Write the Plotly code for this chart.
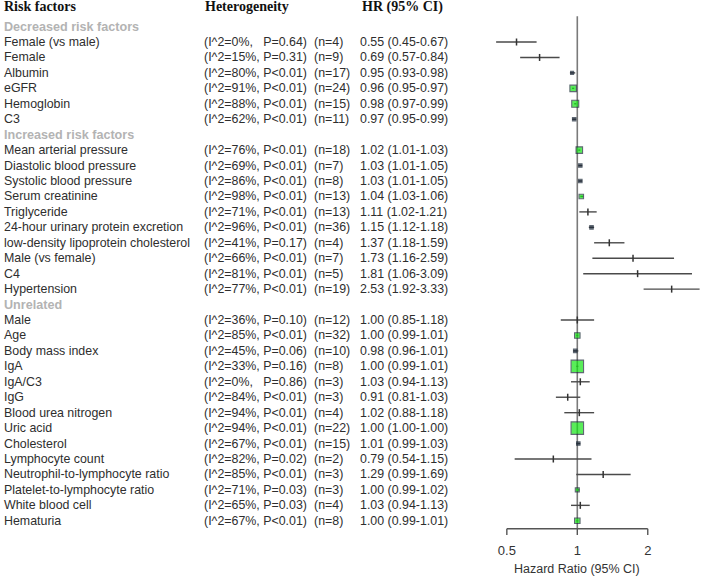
import math
import plotly.graph_objects as go

# ---------------- data ----------------
group_names = ["Decreased risk factors", "Increased risk factors", "Unrelated"]

dec_factors = ["Female (vs male)", "Female", "Albumin", "eGFR", "Hemoglobin", "C3"]
dec_i2 = [0, 15, 80, 91, 88, 62]
dec_p = ["=0.64", "=0.31", "<0.01", "<0.01", "<0.01", "<0.01"]
dec_n = [4, 9, 17, 24, 15, 11]
dec_hr = [0.55, 0.69, 0.95, 0.96, 0.98, 0.97]
dec_lo = [0.45, 0.57, 0.93, 0.95, 0.97, 0.95]
dec_hi = [0.67, 0.84, 0.98, 0.97, 0.99, 0.99]

inc_factors = ["Mean arterial pressure", "Diastolic blood pressure", "Systolic blood pressure",
               "Serum creatinine", "Triglyceride", "24-hour urinary protein excretion",
               "low-density lipoprotein cholesterol", "Male (vs female)", "C4", "Hypertension"]
inc_i2 = [76, 69, 86, 98, 71, 96, 41, 66, 81, 77]
inc_p = ["<0.01", "<0.01", "<0.01", "<0.01", "<0.01", "<0.01", "=0.17", "<0.01", "<0.01", "<0.01"]
inc_n = [18, 7, 8, 13, 13, 36, 4, 7, 5, 19]
inc_hr = [1.02, 1.03, 1.03, 1.04, 1.11, 1.15, 1.37, 1.73, 1.81, 2.53]
inc_lo = [1.01, 1.01, 1.01, 1.03, 1.02, 1.12, 1.18, 1.16, 1.06, 1.92]
inc_hi = [1.03, 1.05, 1.05, 1.06, 1.21, 1.18, 1.59, 2.59, 3.09, 3.33]

unr_factors = ["Male", "Age", "Body mass index", "IgA", "IgA/C3", "IgG", "Blood urea nitrogen",
               "Uric acid", "Cholesterol", "Lymphocyte count", "Neutrophil-to-lymphocyte ratio",
               "Platelet-to-lymphocyte ratio", "White blood cell", "Hematuria"]
unr_i2 = [36, 85, 45, 33, 0, 84, 94, 94, 67, 82, 85, 71, 65, 67]
unr_p = ["=0.10", "<0.01", "=0.06", "=0.16", "=0.86", "<0.01", "<0.01", "<0.01", "<0.01",
         "=0.02", "<0.01", "=0.03", "=0.03", "<0.01"]
unr_n = [12, 32, 10, 8, 3, 3, 4, 22, 15, 2, 3, 3, 4, 8]
unr_hr = [1.00, 1.00, 0.98, 1.00, 1.03, 0.91, 1.02, 1.00, 1.01, 0.79, 1.29, 1.00, 1.03, 1.00]
unr_lo = [0.85, 0.99, 0.96, 0.99, 0.94, 0.81, 0.88, 1.00, 0.99, 0.54, 0.99, 0.99, 0.94, 0.99]
unr_hi = [1.18, 1.01, 1.01, 1.01, 1.13, 1.03, 1.18, 1.00, 1.03, 1.15, 1.69, 1.02, 1.13, 1.01]

# box size (study weight, px); 0 = tick only
dec_box = [0, 0, 3, 6.5, 7, 3.5]
inc_box = [6.5, 3.5, 3.5, 4.5, 0, 3.5, 0, 0, 0, 0]
unr_box = [0, 5.5, 3.5, 12.5, 0, 0, 0, 12.5, 3.5, 0, 0, 4, 0, 5.5]

x_ticks = [0.5, 1, 2]
x_ticktext = ["0.5", "1", "2"]
axis_title = "Hazard Ratio (95% CI)"
headers = ["Risk factors", "Heterogeneity", "HR (95% CI)"]

# ---------------- build rows ----------------
groups = [
    (group_names[0], dec_factors, dec_i2, dec_p, dec_n, dec_hr, dec_lo, dec_hi, dec_box),
    (group_names[1], inc_factors, inc_i2, inc_p, inc_n, inc_hr, inc_lo, inc_hi, inc_box),
    (group_names[2], unr_factors, unr_i2, unr_p, unr_n, unr_hr, unr_lo, unr_hi, unr_box),
]

W, H = 702, 578
TXT = "#2e2e2e"
FONT = "Liberation Sans, Arial, sans-serif"
SERIF = "Liberation Serif, Times New Roman, serif"

annotations = []
def px(x):
    return x / W

def add_text(text, x, y, size=12.4, color=TXT, family=FONT):
    annotations.append(dict(text=text, x=px(x), xref="paper", y=y, yref="y",
                            xanchor="left", yanchor="middle", showarrow=False,
                            font=dict(size=size, color=color, family=family)))

# headers
add_text("<b>" + headers[0] + "</b>", 2, -0.28, 14, "#111", SERIF)
add_text("<b>" + headers[1] + "</b>", 203, -0.28, 14, "#111", SERIF)
add_text("<b>" + headers[2] + "</b>", 360, -0.28, 14, "#111", SERIF)

rows_y, hr_all, lo_all, hi_all, box_all = [], [], [], [], []
row = 1
for gname, facs, i2s, ps, ns, hrs, los, his, boxes in groups:
    add_text("<b>" + gname + "</b>", 2, row, 12.6, "#b3b3b3")
    row += 1
    for f, i2, p, n, hr, lo, hi, b in zip(facs, i2s, ps, ns, hrs, los, his, boxes):
        add_text(f, 2, row)
        sep = ",\u00a0\u00a0\u00a0" if i2 < 10 else ", "
        add_text(f"(I^2={i2}%{sep}P{p})", 202, row)
        add_text(f"(n={n})", 312, row)
        add_text(f"{hr:.2f} ({lo:.2f}-{hi:.2f})", 358, row)
        rows_y.append(row)
        hr_all.append(hr); lo_all.append(lo); hi_all.append(hi); box_all.append(b)
        row += 1

last_row = rows_y[-1]
y_axis = last_row + 0.52          # row position of the HR axis line
y_bottom = y_axis + 0.40          # bottom of plot area (tick ends)
y_top = -0.72

fig = go.Figure()

# reference line at HR = 1
fig.add_trace(go.Scatter(x=[1, 1], y=[0.33, y_axis], mode="lines",
                         line=dict(color="#7a7a7a", width=1.6), hoverinfo="skip", showlegend=False))

# HR axis line (0.5 - 2) and its tick marks
ax_x = [x_ticks[0], x_ticks[-1], None]
ax_y = [y_axis, y_axis, None]
for t in x_ticks:
    ax_x += [t, t, None]
    ax_y += [y_axis, y_bottom, None]
fig.add_trace(go.Scatter(x=ax_x, y=ax_y, mode="lines", line=dict(color="#555", width=1.4),
                         hoverinfo="skip", showlegend=False))

# CI lines
cx, cy = [], []
for y, lo, hi in zip(rows_y, lo_all, hi_all):
    cx += [lo, hi, None]
    cy += [y, y, None]
fig.add_trace(go.Scatter(x=cx, y=cy, mode="lines", line=dict(color="#4a4a4a", width=1.4),
                         hoverinfo="skip", showlegend=False))

# ticks for small-weight estimates
tx = [h for h, b in zip(hr_all, box_all) if b == 0]
ty = [y for y, b in zip(rows_y, box_all) if b == 0]
fig.add_trace(go.Scatter(x=tx, y=ty, mode="markers",
                         marker=dict(symbol="line-ns", size=5, line=dict(color="#333", width=1.5)),
                         hoverinfo="skip", showlegend=False))

# boxes
bx = [h for h, b in zip(hr_all, box_all) if b > 0]
by = [y for y, b in zip(rows_y, box_all) if b > 0]
bs = [b for b in box_all if b > 0]
bc = ["#1c2838" if b <= 3.5 else "#14e614" for b in bs]
fig.add_trace(go.Scatter(x=bx, y=by, mode="markers",
                         marker=dict(symbol="square", size=bs, color=bc,
                                     line=dict(color="#1e2b3a", width=1.1)),
                         hoverinfo="skip", showlegend=False))

xmin, xmax = 0.384, 3.41
L0, L1 = math.log10(xmin), math.log10(xmax)
d0, d1 = 480 / W, 1.0
def dom(v):
    return d0 + (math.log10(v) - L0) / (L1 - L0) * (d1 - d0)

fig.update_layout(
    width=W, height=H,
    margin=dict(l=0, r=0, t=0, b=43, autoexpand=False),
    paper_bgcolor="white", plot_bgcolor="white",
    showlegend=False,
    annotations=annotations + [dict(text=axis_title, x=dom(1), xref="paper", y=0, yref="paper",
                                    yshift=-34, xanchor="center", yanchor="middle", showarrow=False,
                                    font=dict(size=12.5, color="#333", family=FONT))],
    xaxis=dict(type="log", range=[L0, L1], domain=[d0, d1],
               showgrid=False, zeroline=False, showline=False,
               tickvals=x_ticks, ticktext=x_ticktext, ticks="", ticklabelstandoff=6,
               tickfont=dict(size=13, color="#333", family=FONT)),
    yaxis=dict(range=[y_bottom, y_top], visible=False, showgrid=False, zeroline=False),
)

fig.write_html("out.html")
